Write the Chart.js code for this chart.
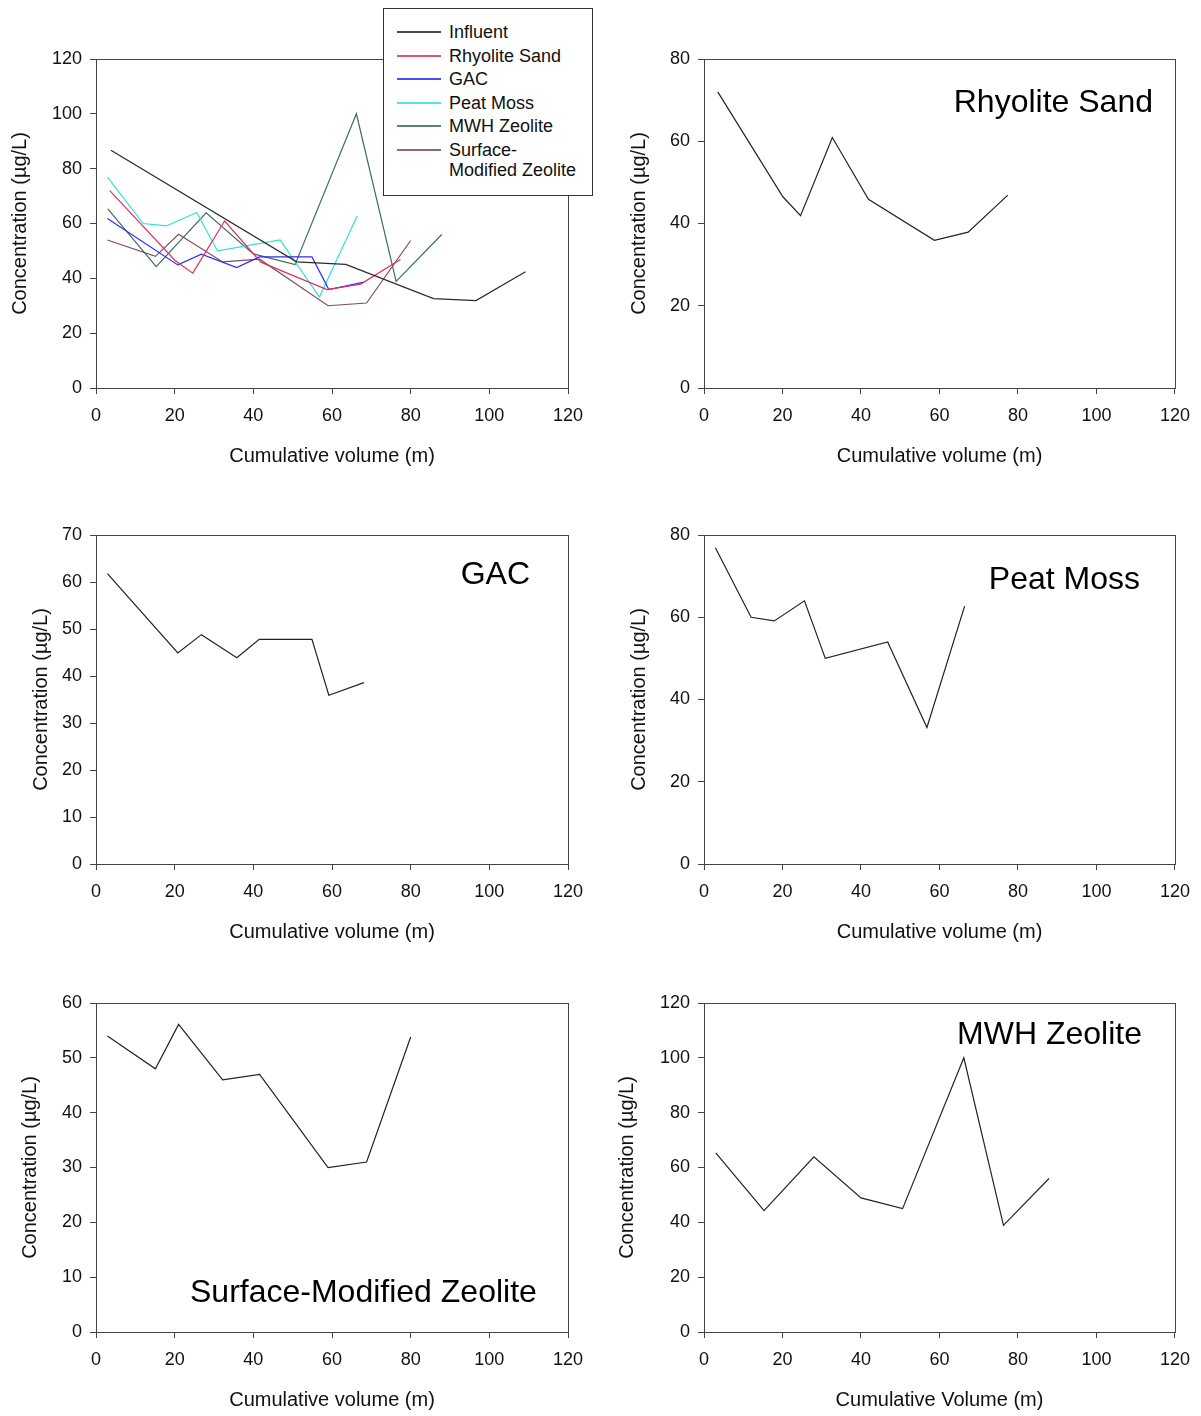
<!DOCTYPE html>
<html>
<head>
<meta charset="utf-8">
<script src="https://cdn.jsdelivr.net/npm/chart.js@4.4.0/dist/chart.umd.min.js"></script>
<style>
  body { margin: 0; background: #fff; }
  #page { position: relative; width: 1201px; height: 1416px; background: #fff; overflow: hidden;
          font-family: Arial, "Liberation Sans", sans-serif; }
  .panel { position: absolute; }
  #legend { position: absolute; left: 383px; top: 8px; width: 208px; height: 186px;
            border: 1px solid #333; background: #fff; }
  .row { position: absolute; left: 0; font-size: 18px; line-height: 20px; color: #111; }
  .row i { position: absolute; left: 13px; top: 9px; width: 44px; height: 2px; opacity: 0.85; }
  .row span { position: absolute; left: 65px; white-space: nowrap; }
</style>
</head>
<body>
<div id="page">
  <canvas class="panel" id="p1" width="600" height="468" style="left:0;top:0"></canvas>
  <canvas class="panel" id="p2" width="593" height="468" style="left:608px;top:0"></canvas>
  <canvas class="panel" id="p3" width="600" height="468" style="left:0;top:476px"></canvas>
  <canvas class="panel" id="p4" width="593" height="468" style="left:608px;top:476px"></canvas>
  <canvas class="panel" id="p5" width="600" height="468" style="left:0;top:944px"></canvas>
  <canvas class="panel" id="p6" width="593" height="468" style="left:608px;top:944px"></canvas>
  <div id="legend"></div>
</div>
<script>
// Measured series (cumulative volume, concentration ug/L)
const influentX = [3.8, 51, 63.5, 85.8, 96.6, 109.2];
const influentY = [86.7, 46, 45.1, 32.6, 31.9, 42.4];

const rhyoliteX = [3.5, 20.1, 24.6, 32.7, 41.9, 58.7, 67.3, 77.4];
const rhyoliteY = [72.0, 46.5, 41.9, 60.9, 45.9, 35.9, 37.9, 46.9];

const gacX = [2.9, 20.8, 26.8, 35.8, 41.5, 54.9, 59.2, 68.1];
const gacY = [61.8, 44.9, 48.8, 43.9, 47.8, 47.8, 35.9, 38.6];

const peatX = [2.9, 12.0, 17.9, 25.6, 30.9, 46.8, 56.8, 66.4];
const peatY = [76.9, 60.0, 59.1, 64.0, 50.0, 54.0, 33.2, 62.7];

const mwhX = [3.0, 15.3, 28.0, 40.0, 50.6, 66.2, 76.3, 87.9];
const mwhY = [65.3, 44.3, 63.9, 48.9, 45.0, 100.0, 38.9, 56.0];

const smzX = [2.9, 15.1, 21.0, 32.2, 41.6, 59.0, 68.8, 80.0];
const smzY = [54.0, 48.0, 56.1, 46.0, 47.0, 30.0, 31.0, 53.8];

const seriesNames = ['Influent', 'Rhyolite Sand', 'GAC', 'Peat Moss', 'MWH Zeolite', 'Surface-Modified Zeolite'];
const legendLabels = ['Influent', 'Rhyolite Sand', 'GAC', 'Peat Moss', 'MWH Zeolite', 'Surface-<br>Modified Zeolite'];
const xTickStep = 20;

const series = {
  'Influent': [influentX, influentY],
  'Rhyolite Sand': [rhyoliteX, rhyoliteY],
  'GAC': [gacX, gacY],
  'Peat Moss': [peatX, peatY],
  'MWH Zeolite': [mwhX, mwhY],
  'Surface-Modified Zeolite': [smzX, smzY],
};

const colors = {
  'Influent': '#2b2b2b',
  'Rhyolite Sand': '#e0305e',
  'GAC': '#2b2bff',
  'Peat Moss': '#2ee0d6',
  'MWH Zeolite': '#3a6e5c',
  'Surface-Modified Zeolite': '#7e4a66',
};

const FONT = 'Arial, "Liberation Sans", sans-serif';
Chart.defaults.font.family = FONT;
Chart.defaults.color = '#111';

// frame round the plot area and the big label inside it
const framePlugin = {
  id: 'frame',
  afterDatasetsDraw(chart, args, opts) {
    const { ctx, chartArea: a } = chart;
    ctx.save();
    ctx.strokeStyle = '#444';
    ctx.lineWidth = 1;
    ctx.strokeRect(a.left + 0.5, a.top + 0.5, a.width, a.height);
    if (opts.text) {
      ctx.font = '32px ' + FONT;
      ctx.fillStyle = '#000';
      ctx.textBaseline = 'middle';
      ctx.textAlign = opts.align;
      const x = opts.align === 'right' ? a.right - opts.dx : a.left + opts.dx;
      ctx.fillText(opts.text, x, a.top + opts.dy);
    }
    ctx.restore();
  }
};

const panels = [
  { id: 'p1', names: seriesNames, mono: false, yMax: 120, yStep: 20, padRight: 32, yTitleX: 20,
    xTitle: 'Cumulative volume (m)', label: null },
  { id: 'p2', names: ['Rhyolite Sand'], mono: true, yMax: 80, yStep: 20, padRight: 26, yTitleX: 31,
    xTitle: 'Cumulative volume (m)', label: { text: 'Rhyolite Sand', align: 'right', dx: 22, dy: 44 } },
  { id: 'p3', names: ['GAC'], mono: true, yMax: 70, yStep: 10, padRight: 32, yTitleX: 41,
    xTitle: 'Cumulative volume (m)', label: { text: 'GAC', align: 'right', dx: 38, dy: 40 } },
  { id: 'p4', names: ['Peat Moss'], mono: true, yMax: 80, yStep: 20, padRight: 26, yTitleX: 31,
    xTitle: 'Cumulative volume (m)', label: { text: 'Peat Moss', align: 'right', dx: 35, dy: 45 } },
  { id: 'p5', names: ['Surface-Modified Zeolite'], mono: true, yMax: 60, yStep: 10, padRight: 32, yTitleX: 30,
    xTitle: 'Cumulative volume (m)', label: { text: 'Surface-Modified Zeolite', align: 'left', dx: 94, dy: 290 } },
  { id: 'p6', names: ['MWH Zeolite'], mono: true, yMax: 120, yStep: 20, padRight: 26, yTitleX: 19,
    xTitle: 'Cumulative Volume (m)', label: { text: 'MWH Zeolite', align: 'right', dx: 33, dy: 32 } },
];

function makeChart(p) {
  const datasets = p.names.map((name) => {
    const [xs, ys] = series[name];
    return {
      label: name,
      data: xs.map((x, i) => ({ x: x, y: ys[i] })),
      showLine: true,
      borderColor: p.mono ? '#222' : colors[name],
      borderWidth: 1.2,
      pointRadius: 0,
      fill: false,
    };
  });

  new Chart(document.getElementById(p.id).getContext('2d'), {
    type: 'scatter',
    data: { datasets: datasets },
    options: {
      responsive: false,
      animation: false,
      devicePixelRatio: 1,
      layout: { padding: { top: 59, right: p.padRight, bottom: 0, left: 0 } },
      plugins: {
        legend: { display: false },
        tooltip: { enabled: false },
        frame: p.label || {},
      },
      scales: {
        x: {
          type: 'linear',
          min: 0,
          max: 120,
          ticks: { stepSize: xTickStep, font: { size: 18 }, padding: 11, maxRotation: 0 },
          grid: { drawOnChartArea: false, drawTicks: true, tickLength: 6, color: '#444' },
          border: { display: true, color: '#444' },
          title: { display: true, text: p.xTitle, font: { size: 20 }, padding: { top: 0, bottom: 0 } },
          afterFit: (s) => { s.height = 80; },
        },
        y: {
          type: 'linear',
          min: 0,
          max: p.yMax,
          ticks: { stepSize: p.yStep, font: { size: 18 }, padding: 8 },
          grid: { drawOnChartArea: false, drawTicks: true, tickLength: 6, color: '#444' },
          border: { display: true, color: '#444' },
          title: { display: true, text: 'Concentration (\u00b5g/L)', font: { size: 20 },
                   padding: { top: p.yTitleX - 12, bottom: 0 } },
          afterFit: (s) => { s.width = 96; },
        },
      },
    },
    plugins: [framePlugin],
  });
}

panels.forEach(makeChart);

// legend box of the first panel
const legend = document.getElementById('legend');
const rowTops = [13, 37, 60, 84, 107, 131];
seriesNames.forEach((name, i) => {
  const row = document.createElement('div');
  row.className = 'row';
  row.style.top = rowTops[i] + 'px';
  row.innerHTML = '<i style="background:' + colors[name] + '"></i><span>' + legendLabels[i] + '</span>';
  legend.appendChild(row);
});
</script>
</body>
</html>
